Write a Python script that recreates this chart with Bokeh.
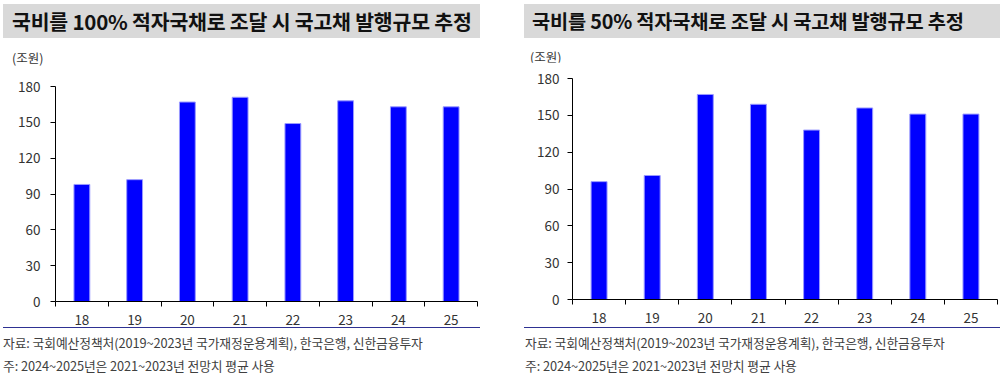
from bokeh.plotting import figure
from bokeh.models import FixedTicker, Div, Range1d
from bokeh.layouts import row, column
from bokeh.embed import file_html
from bokeh.resources import INLINE

years = ["18", "19", "20", "21", "22", "23", "24", "25"]
issue_100 = [98, 102, 167, 171, 149, 168, 163, 163]
issue_50 = [96, 101, 167, 159, 138, 156, 151, 151]
y_ticks = [0, 30, 60, 90, 120, 150, 180]
title_100 = "국비를 100% 적자국채로 조달 시 국고채 발행규모 추정"
title_50 = "국비를 50% 적자국채로 조달 시 국고채 발행규모 추정"
unit_text = "(조원)"
source_text = "자료: 국회예산정책처(2019~2023년 국가재정운용계획), 한국은행, 신한금융투자"
note_text = "주: 2024~2025년은 2021~2023년 전망치 평균 사용"

FONT = "Noto Sans CJK KR"
BAR = "#0000ff"
TXT = "#333333"
NAVY = "#2e3192"


def panel(title, values, width, title_pad, title_fs, unit_pad, unit_h, unit_pt, fig_h,
          b_left, b_right, b_top, b_bottom, ystand, foot_pad):
    n = len(years)
    centers = [i + 0.5 for i in range(n)]
    t = Div(
        text=(f'<div style="background:#d9d9d9;width:{width}px;height:34px;box-sizing:border-box;'
              f'padding-left:{title_pad}px;font-family:\'{FONT}\';font-weight:bold;font-size:{title_fs}px;'
              f'line-height:34px;color:#111;white-space:nowrap;letter-spacing:-0.2px;">{title}</div>'),
        width=width, height=34, margin=0)
    u = Div(
        text=(f'<div style="width:{width}px;height:{unit_h}px;box-sizing:border-box;padding-top:{unit_pt}px;'
              f'padding-left:{unit_pad}px;font-family:\'{FONT}\';font-size:12.5px;line-height:16px;'
              f'color:{TXT};white-space:nowrap;">{unit_text}</div>'),
        width=width, height=unit_h, margin=0)
    p = figure(width=width, height=fig_h, x_range=Range1d(0, n), y_range=Range1d(0, 180),
               output_backend="svg", toolbar_location=None, margin=0,
               min_border_left=b_left, min_border_right=b_right,
               min_border_top=b_top, min_border_bottom=b_bottom)
    p.vbar(x=centers, top=values, width=0.3, fill_color=BAR, line_color="#9a9aff", line_width=1)
    p.xgrid.visible = False
    p.ygrid.visible = False
    p.outline_line_color = None
    p.background_fill_color = "white"
    p.border_fill_color = "white"

    ya = p.yaxis[0]
    ya.ticker = FixedTicker(ticks=y_ticks)
    ya.major_tick_in = 0
    ya.major_tick_out = 5
    ya.minor_tick_in = 0
    ya.minor_tick_out = 0
    ya.axis_line_color = "black"
    ya.major_tick_line_color = "black"
    ya.major_label_text_font = FONT
    ya.major_label_text_font_size = "13.5px"
    ya.major_label_text_color = TXT
    ya.major_label_standoff = ystand

    xa = p.xaxis[0]
    xa.ticker = FixedTicker(ticks=centers, minor_ticks=list(range(n + 1)))
    xa.major_label_overrides = {c: y for c, y in zip(centers, years)}
    xa.major_tick_in = 0
    xa.major_tick_out = 0
    xa.minor_tick_in = 0
    xa.minor_tick_out = 5
    xa.minor_tick_line_color = "black"
    xa.axis_line_color = "black"
    xa.major_label_text_font = FONT
    xa.major_label_text_font_size = "13.5px"
    xa.major_label_text_color = TXT
    xa.major_label_standoff = 8

    d = Div(
        text=(f'<div style="border-top:1px solid {NAVY};width:{width}px;height:58px;box-sizing:border-box;'
              f'padding-top:3px;padding-left:{foot_pad}px;font-family:\'{FONT}\';font-size:12.8px;line-height:23px;'
              f'color:#404040;white-space:nowrap;letter-spacing:-0.1px;">{source_text}<br>{note_text}</div>'),
        width=width, height=58, margin=0)
    return column(t, u, p, d, spacing=0, margin=0)


left = panel(title_100, issue_100, 477, 9, 20.5, 9, 32, 12, 257, 52, 3, 16, 26, 10, 0)
right = panel(title_50, issue_50, 476, 8, 19.8, 6, 24, 11, 265, 48, 3, 16, 28, 8, 1)
layout = row(left, right, spacing=44, margin=(4, 0, 0, 3))

open("out.html", "w").write(file_html(layout, INLINE))
